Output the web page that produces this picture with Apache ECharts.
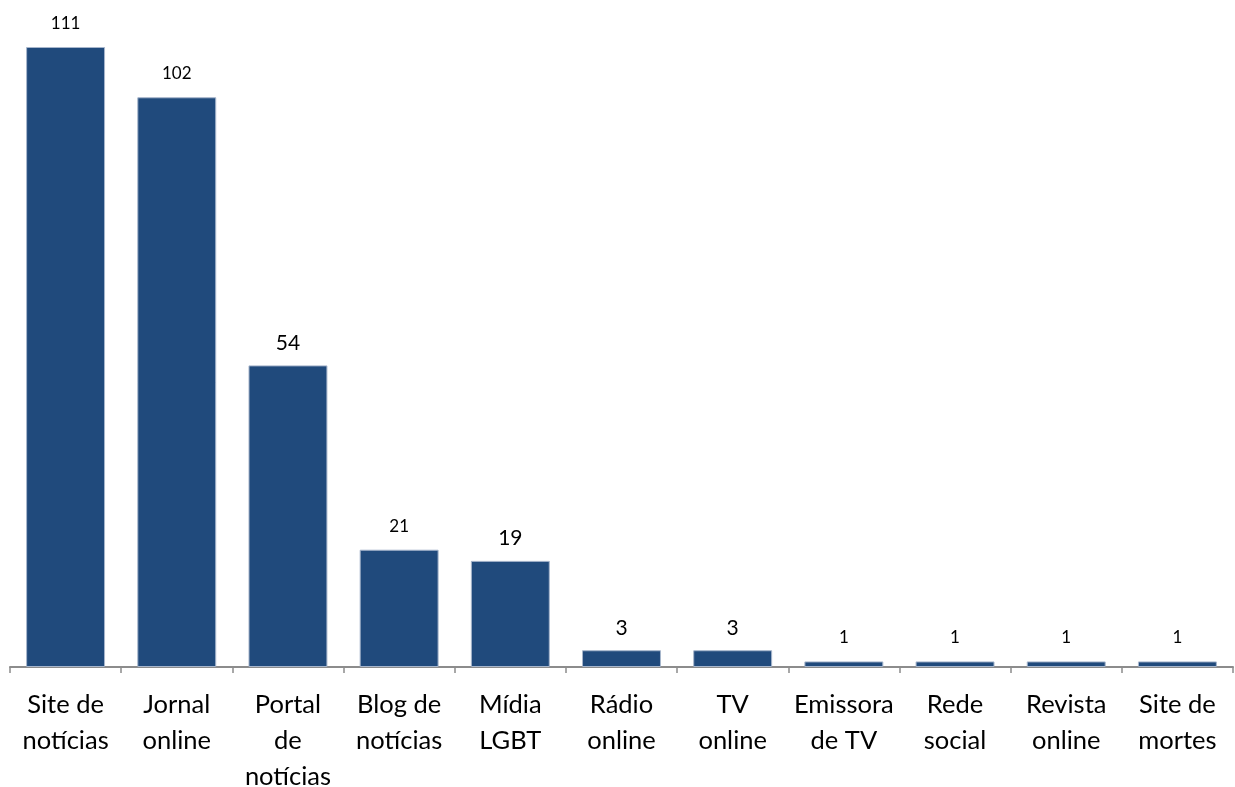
<!DOCTYPE html>
<html><head><meta charset="utf-8">
<script src="https://cdn.jsdelivr.net/npm/echarts@6/dist/echarts.min.js"></script>
<style>html,body{margin:0;padding:0;background:#fff}#c{width:1235px;height:787px}</style>
</head><body><div id="c"></div>
<script>
const categories = ["Site de\nnotícias","Jornal\nonline","Portal\nde\nnotícias","Blog de\nnotícias","Mídia\nLGBT","Rádio\nonline","TV\nonline","Emissora\nde TV","Rede\nsocial","Revista\nonline","Site de\nmortes"];
const values = [111,102,54,21,19,3,3,1,1,1,1];
const bigLabelIdx = [2,4,5,6];
const chart = echarts.init(document.getElementById('c'));
chart.setOption({
  animation:false,
  grid:{left:10,right:2,top:47,bottom:120,outerBoundsMode:'none',containLabel:false},
  xAxis:{type:'category',data:categories,
    axisLine:{lineStyle:{color:'#8c8c8c',width:2}},
    axisTick:{show:true,length:6,lineStyle:{color:'#8c8c8c',width:1.5}},
    axisLabel:{interval:0,color:'#000',fontFamily:'Lato',fontSize:25.5,lineHeight:36,margin:20}},
  yAxis:{type:'value',min:0,max:111,show:false,splitLine:{show:false}},
  series:[{type:'bar',barCategoryGap:'29%',
    data:values.map((v,i)=>{const big=bigLabelIdx.includes(i);return {value:v,label:{fontSize:big?21:17,distance:big?12:15}};}),
    itemStyle:{color:'#204a7c',borderColor:'#a7b6cc',borderWidth:1},
    label:{show:true,position:'top',color:'#000',fontFamily:'Lato'}}]
});
</script></body></html>
